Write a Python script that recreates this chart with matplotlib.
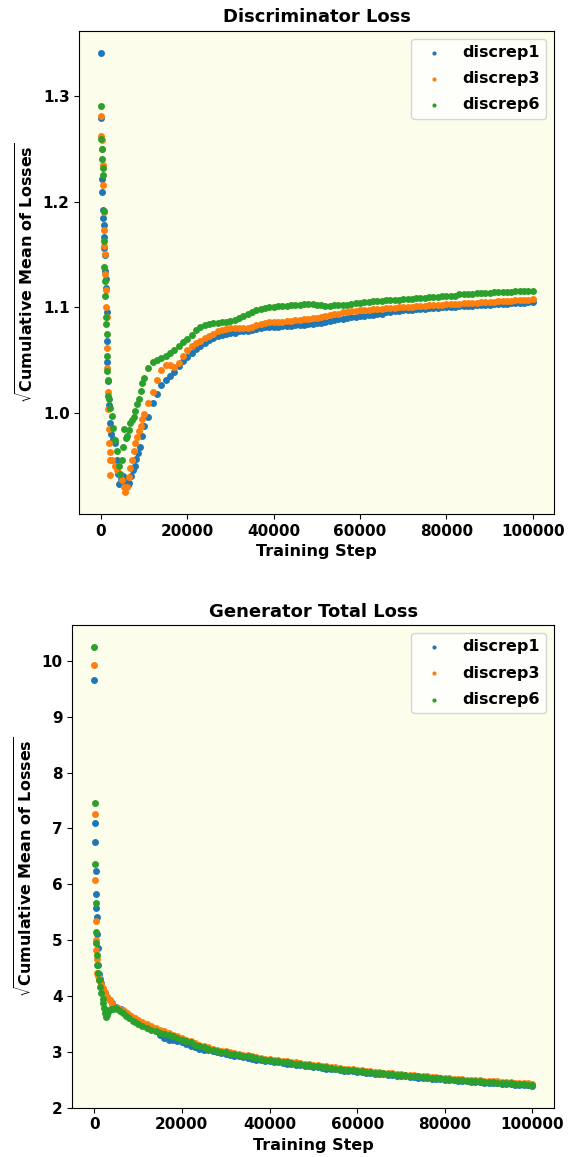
import numpy as np
import matplotlib
matplotlib.use('Agg')
import matplotlib.pyplot as plt

labels = ['discrep1', 'discrep3', 'discrep6']
colors = ['#1f77b4', '#ff7f0e', '#2ca02c']

# pasos regulares despues de los primeros 10000
grid_steps = list(range(10000, 100001, 1000))

# ---- Discriminator loss ----
d1_early_steps = [0, 100, 200, 300, 400, 500, 600, 700, 800, 900, 1000, 1100, 1200, 1300,
                  1400, 1500, 1700, 1900, 2100, 2400, 2800, 3300, 3700, 4000, 4200, 4600,
                  5000, 5400, 5800, 6200, 6600, 7000, 7400, 7800, 8200, 8600, 9000, 9500]
d1_early = [1.341, 1.279, 1.221, 1.209, 1.192, 1.184, 1.178, 1.166, 1.156, 1.149, 1.134,
            1.127, 1.118, 1.095, 1.068, 1.048, 1.030, 1.007, 0.990, 0.980, 0.975, 0.971,
            0.955, 0.942, 0.933, 0.937, 0.940, 0.938, 0.934, 0.932, 0.934, 0.940, 0.946,
            0.950, 0.956, 0.962, 0.968, 0.978]
d1_grid = [0.988, 0.996, 1.009, 1.018, 1.026, 1.031, 1.035, 1.039, 1.044, 1.049,
           1.053, 1.057, 1.060, 1.063, 1.066, 1.069, 1.071, 1.073, 1.074, 1.075,
           1.076, 1.076, 1.077, 1.077, 1.077, 1.078, 1.079, 1.080, 1.081, 1.081,
           1.081, 1.081, 1.082, 1.082, 1.082, 1.083, 1.083, 1.083, 1.084, 1.084,
           1.085, 1.085, 1.086, 1.087, 1.088, 1.089, 1.089, 1.090, 1.091, 1.091,
           1.092, 1.092, 1.093, 1.093, 1.094, 1.094, 1.095, 1.095, 1.096, 1.096,
           1.097, 1.097, 1.097, 1.098, 1.098, 1.098, 1.099, 1.099, 1.099, 1.100,
           1.100, 1.100, 1.100, 1.101, 1.101, 1.101, 1.101, 1.102, 1.102, 1.102,
           1.102, 1.103, 1.103, 1.103, 1.103, 1.104, 1.104, 1.104, 1.104, 1.105, 1.105]

d3_early_steps = [0, 100, 200, 300, 400, 500, 600, 700, 800, 900, 1000, 1100, 1200, 1300,
                  1400, 1500, 1600, 1700, 1800, 1900, 2000, 2100, 2200, 2600, 3200, 3800,
                  4400, 4900, 5300, 5650, 6000, 6400, 6800, 7200, 7600, 8000, 8400, 8800,
                  9200, 9600]
d3_early = [1.281, 1.262, 1.258, 1.250, 1.235, 1.216, 1.190, 1.173, 1.158, 1.150, 1.131,
            1.116, 1.100, 1.091, 1.061, 1.042, 1.020, 1.004, 0.985, 0.971, 0.963, 0.955,
            0.941, 0.955, 0.950, 0.946, 0.942, 0.936, 0.930, 0.925, 0.930, 0.939, 0.948,
            0.955, 0.964, 0.971, 0.977, 0.983, 0.988, 0.994]
d3_grid = [0.999, 1.009, 1.020, 1.031, 1.041, 1.045, 1.045, 1.043, 1.047, 1.054,
           1.059, 1.063, 1.066, 1.068, 1.071, 1.073, 1.075, 1.077, 1.078, 1.079,
           1.080, 1.080, 1.080, 1.080, 1.080, 1.081, 1.083, 1.084, 1.085, 1.086,
           1.086, 1.086, 1.086, 1.087, 1.087, 1.088, 1.088, 1.089, 1.089, 1.090,
           1.090, 1.091, 1.092, 1.093, 1.094, 1.094, 1.095, 1.095, 1.096, 1.096,
           1.097, 1.097, 1.097, 1.098, 1.098, 1.098, 1.099, 1.099, 1.099, 1.100,
           1.100, 1.100, 1.100, 1.101, 1.101, 1.101, 1.102, 1.102, 1.102, 1.102,
           1.103, 1.103, 1.103, 1.103, 1.104, 1.104, 1.104, 1.104, 1.105, 1.105,
           1.105, 1.105, 1.106, 1.106, 1.106, 1.106, 1.107, 1.107, 1.107, 1.107, 1.108]

d6_early_steps = [0, 100, 200, 300, 400, 500, 600, 700, 800, 900, 1000, 1100, 1200, 1300,
                  1400, 1500, 1600, 1700, 1900, 2200, 2500, 2800, 3300, 3700, 4100, 4500,
                  4800, 5100, 5300, 5700, 6000, 6400, 6800, 7200, 7600, 8000, 8400, 8800,
                  9200, 9600]
d6_early = [1.290, 1.259, 1.250, 1.240, 1.232, 1.225, 1.191, 1.163, 1.138, 1.125, 1.111,
            1.091, 1.084, 1.075, 1.054, 1.040, 1.031, 1.016, 1.013, 1.005, 0.997, 0.986,
            0.974, 0.964, 0.950, 0.942, 0.955, 0.968, 0.985, 0.976, 0.978, 0.984, 0.990,
            0.993, 0.996, 1.002, 1.008, 1.013, 1.021, 1.028]
d6_grid = [1.033, 1.042, 1.048, 1.050, 1.052, 1.054, 1.057, 1.059, 1.063, 1.067,
           1.070, 1.074, 1.078, 1.081, 1.083, 1.084, 1.085, 1.085, 1.086, 1.086,
           1.087, 1.088, 1.090, 1.092, 1.094, 1.095, 1.097, 1.098, 1.099, 1.100,
           1.100, 1.101, 1.101, 1.101, 1.102, 1.102, 1.102, 1.103, 1.103, 1.103,
           1.102, 1.102, 1.101, 1.101, 1.102, 1.102, 1.102, 1.102, 1.103, 1.104,
           1.104, 1.105, 1.105, 1.106, 1.106, 1.106, 1.107, 1.107, 1.107, 1.107,
           1.108, 1.108, 1.108, 1.109, 1.109, 1.109, 1.110, 1.110, 1.110, 1.111,
           1.111, 1.111, 1.111, 1.112, 1.112, 1.112, 1.112, 1.113, 1.113, 1.113,
           1.113, 1.114, 1.114, 1.114, 1.114, 1.114, 1.115, 1.115, 1.115, 1.115, 1.115]

# ---- Generator total loss ----
g1_early_steps = [0, 100, 200, 300, 400, 500, 600, 700, 800, 900, 1100, 1300, 1600, 2000,
                  2500, 3000, 3500, 4000, 5000, 6000, 7000, 8000, 9000]
g1_early = [9.665, 7.10, 6.75, 6.24, 5.83, 5.58, 5.42, 5.11, 4.86, 4.56, 4.40, 4.30, 4.23,
            4.12, 4.05, 3.98, 3.93, 3.88, 3.81, 3.76, 3.72, 3.66, 3.60]
g1_grid = [3.53, 3.50, 3.46, 3.42, 3.38, 3.30, 3.24, 3.21, 3.21, 3.20,
           3.18, 3.14, 3.11, 3.08, 3.06, 3.04, 3.03, 3.01, 2.99, 2.98,
           2.96, 2.95, 2.93, 2.92, 2.91, 2.89, 2.88, 2.86, 2.85, 2.84,
           2.83, 2.82, 2.81, 2.80, 2.79, 2.78, 2.77, 2.76, 2.75, 2.74,
           2.73, 2.72, 2.71, 2.70, 2.69, 2.685, 2.675, 2.665, 2.66, 2.65,
           2.645, 2.635, 2.63, 2.62, 2.61, 2.605, 2.60, 2.59, 2.585, 2.575,
           2.57, 2.56, 2.555, 2.55, 2.54, 2.535, 2.53, 2.52, 2.515, 2.51,
           2.50, 2.495, 2.49, 2.485, 2.48, 2.47, 2.465, 2.46, 2.455, 2.45,
           2.445, 2.44, 2.435, 2.43, 2.425, 2.42, 2.415, 2.41, 2.405, 2.40, 2.395]

g3_early_steps = [0, 100, 200, 300, 400, 500, 600, 700, 900, 1100, 1500, 2000, 2500, 3000,
                  3500, 4000, 4500, 5500, 6500, 7500, 8500, 9300]
g3_early = [9.93, 7.26, 6.08, 5.35, 5.005, 4.83, 4.66, 4.41, 4.35, 4.29, 4.22, 4.14, 4.07,
            3.99, 3.93, 3.86, 3.81, 3.78, 3.75, 3.70, 3.65, 3.61]
g3_grid = [3.57, 3.53, 3.49, 3.46, 3.43, 3.40, 3.37, 3.34, 3.31, 3.28,
           3.25, 3.22, 3.19, 3.16, 3.13, 3.10, 3.08, 3.06, 3.04, 3.02,
           3.01, 2.99, 2.98, 2.96, 2.95, 2.94, 2.92, 2.91, 2.89, 2.88,
           2.87, 2.86, 2.85, 2.84, 2.83, 2.82, 2.81, 2.80, 2.79, 2.78,
           2.77, 2.76, 2.75, 2.74, 2.73, 2.72, 2.71, 2.70, 2.69, 2.685,
           2.675, 2.67, 2.66, 2.65, 2.645, 2.635, 2.63, 2.62, 2.615, 2.605,
           2.60, 2.59, 2.585, 2.58, 2.57, 2.565, 2.56, 2.55, 2.545, 2.54,
           2.535, 2.53, 2.52, 2.515, 2.51, 2.505, 2.50, 2.495, 2.49, 2.485,
           2.48, 2.475, 2.47, 2.465, 2.46, 2.455, 2.45, 2.445, 2.44, 2.435, 2.43]

g6_early_steps = [0, 100, 200, 300, 400, 500, 600, 700, 900, 1100, 1400, 1600, 1900, 2100,
                  2300, 2500, 2700, 2900, 3100, 3400, 3800, 4200, 4700, 5200, 5800, 6500,
                  7200, 8000, 8800, 9400]
g6_early = [10.25, 7.455, 6.36, 5.67, 5.155, 4.945, 4.74, 4.56, 4.41, 4.29, 4.17, 4.05,
            3.95, 3.87, 3.78, 3.70, 3.63, 3.66, 3.72, 3.75, 3.77, 3.77, 3.78, 3.77, 3.74,
            3.69, 3.65, 3.60, 3.56, 3.53]
g6_grid = [3.50, 3.46, 3.43, 3.40, 3.37, 3.34, 3.32, 3.30, 3.28, 3.25,
           3.22, 3.20, 3.17, 3.13, 3.10, 3.08, 3.06, 3.04, 3.02, 3.00,
           2.99, 2.97, 2.96, 2.95, 2.93, 2.92, 2.90, 2.89, 2.87, 2.86,
           2.85, 2.84, 2.83, 2.82, 2.81, 2.80, 2.79, 2.78, 2.77, 2.76,
           2.75, 2.74, 2.73, 2.72, 2.71, 2.70, 2.69, 2.68, 2.675, 2.67,
           2.66, 2.65, 2.645, 2.64, 2.63, 2.62, 2.615, 2.61, 2.60, 2.59,
           2.585, 2.58, 2.57, 2.565, 2.56, 2.55, 2.545, 2.54, 2.53, 2.525,
           2.52, 2.51, 2.505, 2.50, 2.49, 2.485, 2.48, 2.475, 2.47, 2.465,
           2.46, 2.455, 2.45, 2.445, 2.44, 2.435, 2.43, 2.425, 2.42, 2.415, 2.41]

disc = [(d1_early_steps + grid_steps, d1_early + d1_grid),
        (d3_early_steps + grid_steps, d3_early + d3_grid),
        (d6_early_steps + grid_steps, d6_early + d6_grid)]
gen = [(g1_early_steps + grid_steps, g1_early + g1_grid),
       (g3_early_steps + grid_steps, g3_early + g3_grid),
       (g6_early_steps + grid_steps, g6_early + g6_grid)]

bg = '#fdfdec'
ylabel = r'$\sqrt{\mathbf{Cumulative\ Mean\ of\ Losses}}$'

fig = plt.figure(figsize=(5.69, 11.57), dpi=100)
ax1 = fig.add_axes([0.1394, 0.5557, 0.8348, 0.4179])
ax2 = fig.add_axes([0.1271, 0.0426, 0.8471, 0.4172])

for ax, series, title in [(ax1, disc, 'Discriminator Loss'), (ax2, gen, 'Generator Total Loss')]:
    ax.set_facecolor(bg)
    for (x, y), lab, c in zip(series, labels, colors):
        ax.scatter(x, y, s=25, color=c, label=lab, linewidths=0)
    ax.set_title(title, fontsize=13, fontweight='bold')
    ax.set_xlabel('Training Step', fontsize=11.5, fontweight='bold')
    ax.set_ylabel(ylabel, fontsize=11.5)
    ax.set_xticks([0, 20000, 40000, 60000, 80000, 100000])
    for t in ax.get_xticklabels() + ax.get_yticklabels():
        t.set_fontweight('bold')
        t.set_fontsize(11)
    ax.legend(loc='upper right', prop={'weight': 'bold', 'size': 11.5},
              markerscale=0.6, labelspacing=0.7)

ax2.set_yticks([2, 3, 4, 5, 6, 7, 8, 9, 10])

fig.savefig('out.png', dpi=100)
